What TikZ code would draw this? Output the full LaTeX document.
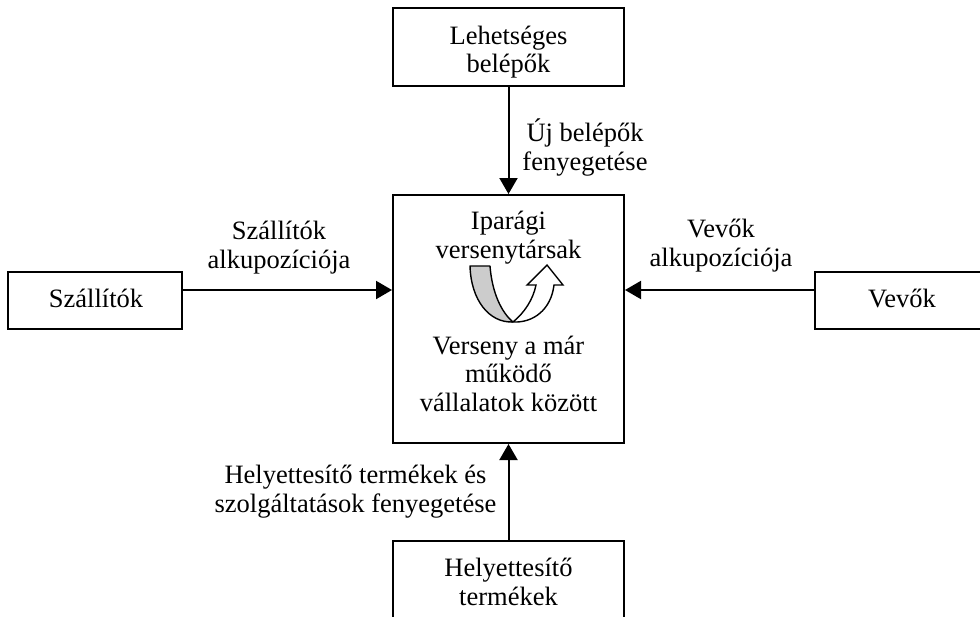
\documentclass[tikz,border=0pt]{standalone}
\usepackage{fontspec}
\setmainfont{Liberation Serif}
\usetikzlibrary{arrows.meta}
\begin{document}
\begin{tikzpicture}[x=1pt,y=-1pt,
  box/.style={draw, line width=2pt, inner sep=0pt},
  txt/.style={align=center, font=\fontsize{26.5}{28.5}\selectfont, inner sep=0pt, anchor=base},
  force/.style={line width=2pt, -{Triangle[length=16pt,width=18pt]}},
  bandgray/.style={fill=black!20, draw, line width=1.4pt, line join=round},
  bandwhite/.style={fill=white, draw, line width=1.4pt, line join=miter}]
\clip (0,0) rectangle (980,616);
\fill[white] (0,0) rectangle (980,616);

% five forces boxes
\node[box, minimum width=231pt, minimum height=78pt]  (entrants)  at (508.5,47)   {};
\node[box, minimum width=231pt, minimum height=248pt] (core)      at (508.5,319)  {};
\node[box, minimum width=174pt, minimum height=57pt]  (suppliers) at (95,300.5)   {};
\node[box, minimum width=185pt, minimum height=57pt]  (buyers)    at (907.5,300.5){};
\node[box, minimum width=231pt, minimum height=119pt] (subst)     at (508.5,600.5){};

% box texts
\node[txt] (entrantsT)  at (508.5,72.5) {Lehetséges\\belépők};
\node[txt] (suppliersT) at (96,307)     {Szállítók};
\node[txt] (buyersT)    at (902,307)    {Vevők};
\node[txt] (substT)     at (508.5,605)  {Helyettesítő\\termékek};
\node[txt] (coreTop)    at (508.5,258)  {Iparági\\versenytársak};
\node[txt] (coreBot)    at (508.5,411)  {Verseny a már\\működő\\vállalatok között};

% rivalry symbol
\filldraw[bandgray] (470,266) -- (490,266)
  .. controls (492,292) and (501,312) .. (513,322)
  .. controls (489,323) and (471,300) .. (470,266) -- cycle;
\filldraw[bandwhite] (513,322)
  .. controls (524,313) and (533,300) .. (536,285)
  -- (527,285) -- (547,265) -- (563,285) -- (554,285)
  .. controls (551,310) and (533,323) .. (513,322) -- cycle;

% connectors
\coordinate (hline) at (0,290);
\draw[force] (entrants.south) -- (core.north);
\draw[force] (subst.north) -- (core.south);
\draw[force] (suppliers.east |- hline) -- (core.west |- hline);
\draw[force] (buyers.west |- hline) -- (core.east |- hline);

% connector labels
\node[txt] (newEntry)  at (585,170)   {Új belépők\\fenyegetése};
\node[txt] (suppPower) at (279,268)   {Szállítók\\alkupozíciója};
\node[txt] (buyPower)  at (721,266)   {Vevők\\alkupozíciója};
\node[txt] (substThr)  at (355.5,512) {Helyettesítő termékek és\\szolgáltatások fenyegetése};
\end{tikzpicture}
\end{document}
